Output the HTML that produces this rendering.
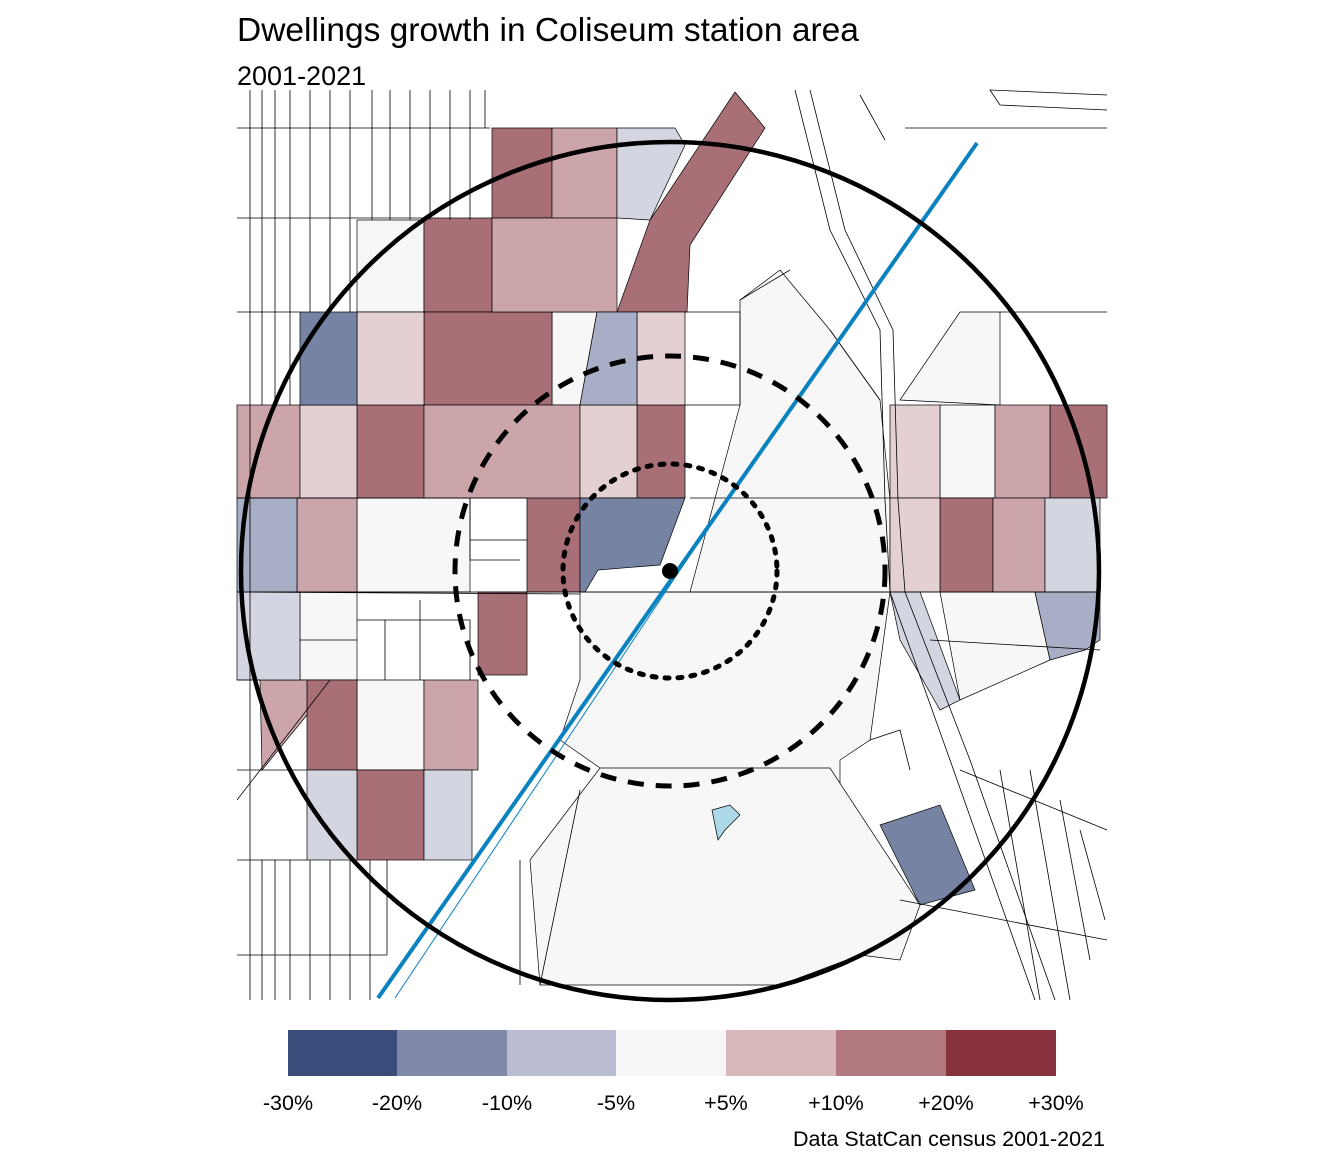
<!DOCTYPE html>
<html><head><meta charset="utf-8"><style>
body{margin:0;background:#fff;width:1344px;height:1152px;overflow:hidden;font-family:"Liberation Sans",Arial,sans-serif}
</style></head><body>
<svg width="1344" height="1152" viewBox="0 0 1344 1152" xmlns="http://www.w3.org/2000/svg" font-family="Liberation Sans, Arial, sans-serif">
<rect width="1344" height="1152" fill="#fff"/>
<text x="237" y="41" font-size="33.5" fill="#000">Dwellings growth in Coliseum station area</text>
<text x="237" y="85" font-size="27" fill="#000">2001-2021</text>
<g stroke="#000" stroke-width="0.7">
<polygon points="580,592 890,592 870,740 840,760 840,860 700,870 600,768 560,740 580,680" fill="#f7f7f7"/>
<polygon points="600,768 830,768 920,905 900,960 860,955 780,985 540,985 530,860" fill="#f7f7f7"/>
<polygon points="740,300 780,270 830,330 880,400 890,500 890,592 690,592 740,405" fill="#f7f7f7"/>
<polygon points="900,400 960,312 1000,312 1000,405" fill="#f7f7f7"/>
<polygon points="357,498 470,498 470,592 357,592" fill="#f7f7f7"/>
<polygon points="552,312 597,312 580,405 552,405" fill="#f7f7f7"/>
<polygon points="357,220 424,220 424,312 357,312" fill="#f7f7f7"/>
<polygon points="300,592 357,592 357,680 300,680" fill="#f7f7f7"/>
<polygon points="357,680 424,680 424,770 357,770" fill="#f7f7f7"/>
<polygon points="940,592 1035,592 1050,660 960,700" fill="#f7f7f7"/>
<polygon points="940,405 995,405 995,498 940,498" fill="#f7f7f7"/>
<g fill="#a86f77">
<rect x="492" y="128" width="60" height="90"/>
<rect x="424" y="218" width="68" height="94"/>
<rect x="424" y="312" width="128" height="93"/>
<rect x="357" y="405" width="67" height="93"/>
<rect x="637" y="405" width="48" height="93"/>
<rect x="1050" y="405" width="57" height="93"/>
<rect x="527" y="498" width="53" height="94"/>
<rect x="940" y="498" width="53" height="94"/>
<rect x="478" y="592" width="49" height="83"/>
<rect x="307" y="680" width="50" height="90"/>
<rect x="357" y="770" width="67" height="90"/>
<polygon points="735,92 765,128 690,245 687,312 617,312 650,220"/>
</g>
<g fill="#cba5a9">
<rect x="552" y="128" width="65" height="90"/>
<rect x="492" y="218" width="125" height="94"/>
<rect x="237" y="405" width="63" height="93"/>
<rect x="424" y="405" width="156" height="93"/>
<rect x="995" y="405" width="55" height="93"/>
<rect x="297" y="498" width="60" height="94"/>
<rect x="993" y="498" width="52" height="94"/>
<rect x="424" y="680" width="54" height="90"/>
<polygon points="260,680 307,680 307,715 262,770"/>
</g>
<g fill="#e4d0d2">
<rect x="357" y="312" width="67" height="93"/>
<rect x="637" y="312" width="48" height="93"/>
<rect x="300" y="405" width="57" height="93"/>
<rect x="580" y="405" width="57" height="93"/>
<rect x="890" y="405" width="50" height="93"/>
<rect x="890" y="498" width="50" height="94"/>
</g>
<g fill="#d3d6e0">
<polygon points="617,128 675,128 685,145 650,220 617,218"/>
<rect x="1045" y="498" width="55" height="94"/>
<rect x="237" y="592" width="63" height="88"/>
<rect x="307" y="770" width="50" height="90"/>
<rect x="424" y="770" width="48" height="90"/>
<polygon points="890,592 920,592 960,700 940,710 900,640"/>
</g>
<g fill="#a8aec6">
<rect x="237" y="498" width="60" height="94"/>
<polygon points="597,312 637,312 637,405 580,405"/>
<polygon points="1035,592 1100,592 1100,640 1085,650 1050,660"/>
</g>
<g fill="#7683a3">
<rect x="300" y="312" width="57" height="93"/>
<polygon points="580,498 685,498 660,565 598,570 585,592 580,592"/>
<polygon points="880,825 940,805 975,890 920,905"/>
</g>
<polygon points="712,810 730,805 740,815 725,830 718,840 715,825" fill="#add8e6"/>
</g>
<g stroke="#000" stroke-width="0.8" fill="none">
<path d="M237,128 H490 M237,218 H424 M237,312 H300 M237,498 H527 M237,592 H1100 M237,680 H260 M237,770 H307 M237,860 H307 M237,955 H387 M685,312 H740 V405 H685 M690,498 H890 M1000,312 H1107 M905,128 H1107 M237,592 L580,594"/>
<path d="M250,90 V1000 M262,90 V405 M275,90 V405 M290,90 V405 M310,90 V312 M330,90 V312 M350,90 V312 M372,90 V220 M390,90 V220 M410,90 V220 M430,90 V220 M450,90 V220 M470,90 V220 M485,90 V128 M262,860 V1000 M275,860 V1000 M290,860 V1000 M310,860 V1000 M330,860 V1000 M350,860 V1000 M370,860 V1000 M387,860 V955"/>
<path d="M795,90 L830,230 L880,330 L885,500 L890,592 L950,760 L1035,1000 M810,90 L845,230 L893,330 L898,500 L905,592 L970,760 L1055,1000"/>
<path d="M1107,95 L990,90 L1000,105 L1107,110 M860,95 L885,140 M930,640 L1100,650 M960,770 L1107,830 M900,900 L1107,940 M870,740 L900,730 L910,770 M1000,770 L1040,1000 M1030,770 L1070,1000 M1060,800 L1090,960 M1080,830 L1105,920 M237,800 L330,680 M520,860 L520,985 M540,985 L580,790 M740,300 L790,270 M830,330 L880,400"/>
<path d="M470,498 V560 H520 M470,540 H527 M300,640 H357 M357,620 H470 V680 M420,600 V680 M385,620 V680"/>
</g>
<line x1="378" y1="998" x2="977" y2="143" stroke="#0a82c0" stroke-width="4"/>
<line x1="395" y1="998" x2="740" y2="480" stroke="#0a82c0" stroke-width="1"/>
<circle cx="670" cy="571" r="429" fill="none" stroke="#000" stroke-width="4.5"/>
<circle cx="670" cy="571" r="215" fill="none" stroke="#000" stroke-width="5" stroke-dasharray="16,12"/>
<circle cx="670" cy="571" r="107" fill="none" stroke="#000" stroke-width="5" stroke-dasharray="4,9" stroke-linecap="round"/>
<circle cx="670" cy="571" r="8" fill="#000"/>
<rect x="288" y="1030" width="110" height="46" fill="#3b4d7a"/>
<rect x="397" y="1030" width="110" height="46" fill="#8088a8"/>
<rect x="507" y="1030" width="110" height="46" fill="#babdd1"/>
<rect x="616" y="1030" width="110" height="46" fill="#f6f6f6"/>
<rect x="726" y="1030" width="110" height="46" fill="#d9b8bc"/>
<rect x="836" y="1030" width="110" height="46" fill="#b27a80"/>
<rect x="946" y="1030" width="110" height="46" fill="#88323f"/>
<g font-size="21.5" text-anchor="middle" fill="#000">
<text x="288" y="1110">-30%</text><text x="397" y="1110">-20%</text><text x="507" y="1110">-10%</text><text x="616" y="1110">-5%</text>
<text x="726" y="1110">+5%</text><text x="836" y="1110">+10%</text><text x="946" y="1110">+20%</text><text x="1056" y="1110">+30%</text>
</g>
<text x="1105" y="1146" font-size="21.5" text-anchor="end" fill="#000">Data StatCan census 2001-2021</text>
</svg>
</body></html>
